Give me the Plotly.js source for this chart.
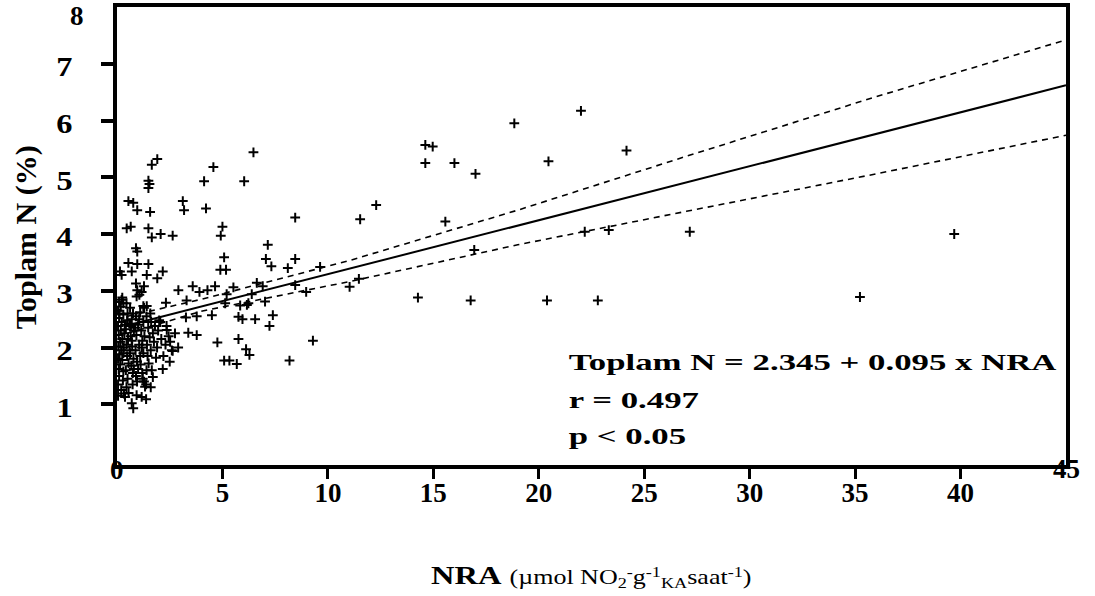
<!DOCTYPE html>
<html><head><meta charset="utf-8">
<script src="https://cdn.plot.ly/plotly-3.0.1.min.js"></script>
<style>html,body{margin:0;padding:0;background:#fff}#chart{width:1095px;height:596px}</style>
</head><body><div id="chart"></div>
<script>
// ---- data ----
const clusterNRA = [0.05,0.10,0.08,0.15,0.05,0.12,0.20,0.06,0.15,0.25,0.08,0.18,0.05,0.22,0.10,0.30,0.05,0.18,0.10,0.25,0.20,0.28,0.30,0.25,0.32,0.35,0.38,0.05,0.12,0.30,0.14,0.22,0.22,0.30,0.38,0.33,
 0.45,0.50,0.42,0.55,0.48,0.60,0.45,0.52,0.65,0.42,0.58,0.70,0.50,0.62,0.45,0.75,0.68,0.78,0.72,0.80,0.66,0.55,0.74,0.80,0.76,0.62,0.70,0.48,0.77,0.70,0.54,0.77,0.46,0.65,0.54,0.70,
 0.90,1.00,0.95,1.10,0.88,1.05,1.20,0.92,1.15,1.00,1.25,0.90,1.10,1.28,0.95,1.20,1.12,1.25,1.30,1.05,1.18,0.86,1.22,0.93,1.17,1.28,0.96,0.90,0.96,0.96,0.90,1.28,0.96,1.17,1.06,0.93,1.25,
 1.40,1.50,1.45,1.60,1.42,1.55,1.70,1.48,1.62,1.80,1.40,1.75,1.90,1.85,1.65,1.58,1.95,1.38,1.70,1.38,1.33,1.60,1.91,1.65,1.49,1.54,1.49,1.57,1.49,1.65,1.49,1.41,1.91,1.41,
 2.10,2.30,2.20,2.45,2.60,2.05,2.35,2.75,2.50,2.90,2.17,2.52,2.64,2.36,2.07,2.64,2.17,2.32,2.91,2.00];
const clusterN = [1.35,1.50,1.62,1.70,1.80,1.88,1.95,2.02,2.10,2.15,2.22,2.30,2.38,2.45,2.52,2.58,2.65,2.72,2.80,2.88,1.25,1.42,1.58,1.78,2.00,2.25,2.40,1.15,2.60,1.90,3.34,3.28,2.84,2.78,1.13,1.19,
 1.30,1.45,1.60,1.72,1.85,1.95,2.05,2.15,2.20,2.32,2.42,2.50,2.60,2.70,2.78,1.55,1.68,1.80,2.02,2.30,2.38,1.20,1.35,1.62,2.60,1.90,2.12,2.48,0.93,1.02,4.58,4.55,4.10,4.13,3.49,3.34,
 1.50,1.62,1.75,1.85,1.95,2.05,2.12,2.22,2.30,2.40,2.45,2.55,2.62,2.70,1.40,1.55,1.70,1.90,2.20,2.50,2.00,2.35,1.45,1.16,1.13,1.40,4.42,3.75,3.69,3.47,3.13,3.08,3.01,2.98,2.93,2.90,2.73,
 1.60,1.72,1.85,1.95,2.05,2.18,2.25,2.35,2.45,2.38,2.55,2.10,2.00,1.82,1.60,2.60,2.30,1.35,1.48,1.09,1.31,1.30,5.32,5.22,4.94,4.88,4.81,4.39,4.10,3.94,3.47,3.28,3.22,2.73,
 2.15,2.05,1.85,2.20,1.95,2.45,2.38,2.25,1.75,2.00,1.62,2.10,1.94,2.31,4.00,3.97,3.34,2.79,3.01,2.48];

const midNRA = [3.12,3.18,3.59,3.91,3.30,3.27,3.38,3.78,3.78,6.47,4.57,4.13,6.03,4.22,8.45,5.00,4.92,7.15,5.08,7.06,8.45,7.32,4.90,5.17,8.10,9.63,4.29,4.65,5.52,6.63,6.91,6.39,5.20,8.45,8.97,5.13,5.84,6.23,7.02,4.50,5.76,5.95,6.55,7.39,7.23,4.76,5.76,6.12,6.28,5.08,5.33,5.68,8.18,9.29,6.16];
const midN   = [4.58,4.42,3.08,2.98,2.83,2.53,2.26,2.22,2.55,5.44,5.18,4.93,4.93,4.45,4.29,4.13,3.97,3.81,3.59,3.56,3.56,3.43,3.37,3.37,3.40,3.42,3.01,3.08,3.06,3.14,3.08,2.94,2.94,3.10,2.98,2.78,2.74,2.78,2.81,2.57,2.54,2.50,2.50,2.57,2.38,2.09,2.15,1.97,1.87,1.77,1.77,1.71,1.77,2.12,2.75];

const farNRA = [11.53,12.29,14.62,14.97,14.62,16.00,17.00,15.57,18.84,22.00,20.46,24.16,16.94,22.18,23.32,27.16,11.03,11.47,14.27,16.77,20.39,22.80,39.70,35.23];
const farN   = [4.26,4.51,5.57,5.54,5.25,5.25,5.06,4.22,5.95,6.17,5.28,5.47,3.72,4.04,4.07,4.04,3.07,3.21,2.88,2.83,2.83,2.83,4.00,2.89];

const fitNRA = [0.3, 45];
const fitN   = [2.37, 6.62];
const bandNRA = [0.5, 4, 11, 19, 27, 36, 45];
const upperN  = [2.55, 2.85, 3.53, 4.42, 5.37, 6.42, 7.42];
const lowerN  = [2.25, 2.64, 3.16, 3.81, 4.40, 5.06, 5.74];

const xTicks = [5,10,15,20,25,30,35,40];
const yTicks = [1,2,3,4,5,6,7];
const equationLines = ['Toplam N = 2.345 + 0.095 x NRA', 'r = 0.497', 'p < 0.05'];

// ---- chart ----
const SERIF = 'Liberation Serif, Times New Roman, serif';
const allNRA = clusterNRA.concat(midNRA, farNRA);
const allN = clusterN.concat(midN, farN);

const traces = [
  {x: allNRA, y: allN, type:'scatter', mode:'markers',
   marker:{symbol:'cross-thin', size:7, color:'#000', line:{color:'#000', width:2}}},
  {x: fitNRA, y: fitN, type:'scatter', mode:'lines', line:{color:'#000', width:2}},
  {x: bandNRA, y: upperN, type:'scatter', mode:'lines', line:{color:'#000', width:1.6, dash:'6px,5px'}},
  {x: bandNRA, y: lowerN, type:'scatter', mode:'lines', line:{color:'#000', width:1.6, dash:'6px,5px'}}
];

const tickFont = {family:SERIF, size:27, color:'#000', weight:'bold'};
const annFont = {family:SERIF, size:24, color:'#000', weight:'bold'};
const eqY = [0.2249, 0.1419, 0.0633];
const big = 'font-size:20px', sm = 'font-size:14px';
const xTitle = '<b>NRA</b> <span style="'+big+'">(µmol NO</span>' +
  '<span style="'+sm+';baseline-shift:-4px">2</span>' +
  '<span style="'+sm+';baseline-shift:7px">-</span>' +
  '<span style="'+big+'">g</span>' +
  '<span style="'+sm+';baseline-shift:7px">-1</span>' +
  '<span style="'+sm+';baseline-shift:-4px">KA</span>' +
  '<span style="'+big+'">saat</span>' +
  '<span style="'+sm+';baseline-shift:7px">-1</span>' +
  '<span style="'+big+'">)</span>';
const annotations = [
  {xref:'x', yref:'paper', x:0, y:-0.011, text:'0', showarrow:false, xanchor:'center', yanchor:'middle', font:tickFont},
  {xref:'x', yref:'paper', x:45, y:-0.008, text:'45', showarrow:false, xanchor:'center', yanchor:'middle', font:tickFont},
  {xref:'paper', yref:'paper', x:-0.042, y:0.981, text:'8', showarrow:false, xanchor:'center', yanchor:'middle', font:tickFont},
  {xref:'paper', yref:'paper', x:-0.095, y:0.497, text:'Toplam N (%)', textangle:-90, showarrow:false, xanchor:'center', yanchor:'middle', font:{family:SERIF, size:30, color:'#000', weight:'bold'}},
  {xref:'paper', yref:'paper', x:0.5, y:-0.2445, showarrow:false, xanchor:'center', yanchor:'middle',
   text: xTitle, font:{family:SERIF, size:25, color:'#000'}}
];
equationLines.forEach((t,i)=>annotations.push({xref:'paper', yref:'paper', x:0.473, y:eqY[i], text:t, showarrow:false, xanchor:'left', yanchor:'middle', font:annFont}));

const layout = {
  width:1095, height:596, margin:{l:117, r:29, t:7, b:131},
  paper_bgcolor:'#fff', plot_bgcolor:'#fff', showlegend:false,
  xaxis:{range:[0,45], tickmode:'array', tickvals:xTicks, ticktext:xTicks.map(String),
    ticks:'outside', ticklen:10, tickwidth:3, tickcolor:'#000',
    showline:true, linewidth:4, linecolor:'#000', mirror:true, showgrid:false, zeroline:false,
    tickfont:tickFont, ticklabelstandoff:-9},
  yaxis:{range:[-0.07,8], tickmode:'array', tickvals:yTicks, ticktext:yTicks.map(String),
    ticks:'outside', ticklen:12, tickwidth:4, tickcolor:'#000',
    showline:true, linewidth:4, linecolor:'#000', mirror:true, showgrid:false, zeroline:false,
    tickfont:tickFont, ticklabelstandoff:23, ticklabelshift:3},
  annotations: annotations
};

Plotly.newPlot('chart', traces, layout, {staticPlot:true, displayModeBar:false}).then(function(gd){
  function stretch(el, sx, origin){ el.style.transformBox='fill-box'; el.style.transformOrigin=origin; el.style.transform='scaleX('+sx+')'; }
  gd.querySelectorAll('g.ytick').forEach(g=>stretch(g,1.2,'right center'));
  const anns = gd.querySelectorAll('g.annotation');
  anns.forEach((g,i)=>{
    if (i===4) stretch(g,1.3,'center');
    else if (i>=5) stretch(g,1.45,'left center');
  });
});
</script></body></html>
